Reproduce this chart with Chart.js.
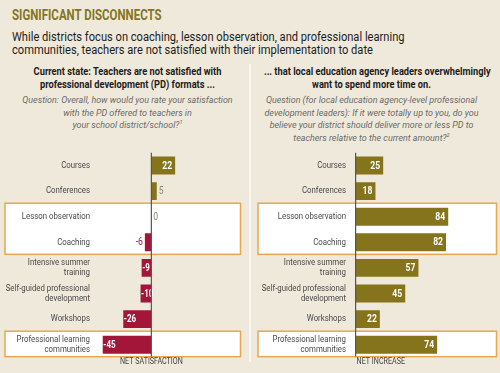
<!DOCTYPE html>
<html>
<head>
<meta charset="utf-8">
<script src="https://cdn.jsdelivr.net/npm/chart.js@4.4.1/dist/chart.umd.min.js"></script>
<style>
  html, body { margin: 0; padding: 0; background: #efe9db; }
  #page { position: relative; width: 500px; height: 373px; overflow: hidden; font-family: Roboto, "Liberation Sans", sans-serif; }
  .title { position: absolute; left: 12px; top: 7px; font-size: 14px; line-height: 16px; font-weight: 700; color: #857420; white-space: nowrap; transform: scaleX(0.82); transform-origin: left center; }
  .subtitle { position: absolute; left: 12px; top: 30px; font-size: 12.5px; line-height: 13px; color: #1d1d1d; white-space: nowrap; transform: scaleX(0.89); transform-origin: left center; }
  .col { position: absolute; top: 66px; text-align: center; }
  .col h2 { margin: 0; font-size: 10.5px; line-height: 12.5px; font-weight: 700; color: #1d1d1d; white-space: nowrap; transform: scaleX(0.885); transform-origin: center top; }
  .col p { margin: 3px 0 0; font-size: 9.5px; line-height: 12.5px; font-style: italic; color: #6a6a6a; white-space: nowrap; transform: scaleX(0.94); transform-origin: center top; }
  .col sup { font-size: 6px; line-height: 0; }
  .divider { position: absolute; left: 249px; top: 64px; width: 2px; height: 298px; background: #faf7ef; }
  canvas { position: absolute; top: 140px; }
</style>
</head>
<body>
<div id="page">
  <div class="title">SIGNIFICANT DISCONNECTS</div>
  <div class="subtitle">While districts focus on coaching, lesson observation, and professional learning<br>communities, teachers are not satisfied with their implementation to date</div>
  <div class="col" style="left:5px; width:245px;">
    <h2>Current state: Teachers are not satisfied with<br>professional development (PD) formats ...</h2>
    <p>Question: Overall, how would you rate your satisfaction<br>with the PD offered to teachers in<br>your school district/school?<sup>1</sup></p>
  </div>
  <div class="col" style="left:250px; width:243px;">
    <h2>... that local education agency leaders overwhelmingly<br>want to spend more time on.</h2>
    <p>Question (for local education agency-level professional<br>development leaders): If it were totally up to you, do you<br>believe your district should deliver more or less PD to<br>teachers relative to the current amount?<sup>2</sup></p>
  </div>
  <div class="divider"></div>
  <canvas id="leftChart" width="250" height="233" style="left:0;"></canvas>
  <canvas id="rightChart" width="250" height="233" style="left:250px;"></canvas>
</div>
<script>
// PD formats, top to bottom
var categories = [
  'Courses',
  'Conferences',
  'Lesson observation',
  'Coaching',
  ['Intensive summer', 'training'],
  ['Self-guided professional', 'development'],
  'Workshops',
  ['Professional learning', 'communities']
];
var netSatisfaction = [22, 5, 0, -6, -9, -10, -26, -45];
var netIncrease = [25, 18, 84, 82, 57, 45, 22, 74];
// category indices that sit inside the orange boxes
var highlightGroups = [[2, 3], [7]];

var OLIVE = '#85741b';
var RED = '#a3163a';
var FONT = 'Roboto, "Liberation Sans", sans-serif';

// squeeze text horizontally so it reads like the condensed print face
function narrowText(ctx, txt, x, y, sx) {
  ctx.save();
  ctx.translate(x, y);
  ctx.scale(sx, 1);
  ctx.fillText(txt, 0, 0);
  ctx.restore();
}

var panelDecor = {
  id: 'panelDecor',
  beforeDraw: function (chart, args, o) {
    var ctx = chart.ctx, y = chart.scales.y;
    ctx.save();
    highlightGroups.forEach(function (g) {
      var top = y.getPixelForValue(g[0]) - 13.5;
      var bottom = y.getPixelForValue(g[g.length - 1]) + 12;
      ctx.fillStyle = '#ffffff';
      ctx.fillRect(o.boxLeft, top, o.boxRight - o.boxLeft, bottom - top);
      ctx.strokeStyle = '#eaa64e';
      ctx.lineWidth = 1.5;
      ctx.strokeRect(o.boxLeft, top, o.boxRight - o.boxLeft, bottom - top);
    });
    ctx.restore();
  },
  beforeDatasetsDraw: function (chart) {
    // category labels, right aligned against the plot
    var ctx = chart.ctx, y = chart.scales.y;
    var right = chart.chartArea.left - 3;
    ctx.save();
    ctx.font = '9px ' + FONT;
    ctx.fillStyle = '#4a4a4a';
    ctx.textAlign = 'right';
    ctx.textBaseline = 'middle';
    chart.data.labels.forEach(function (lab, i) {
      var lines = [].concat(lab);
      var cy = y.getPixelForValue(i);
      var lh = 9.5;
      lines.forEach(function (line, k) {
        narrowText(ctx, line, right, cy + (k - (lines.length - 1) / 2) * lh, 0.87);
      });
    });
    ctx.restore();
  },
  afterDatasetsDraw: function (chart, args, o) {
    var ctx = chart.ctx, area = chart.chartArea;
    var x0 = chart.scales.x.getPixelForValue(0);
    ctx.save();

    // value labels
    var meta = chart.getDatasetMeta(0);
    var values = chart.data.datasets[0].data;
    ctx.textBaseline = 'middle';
    meta.data.forEach(function (el, i) {
      var v = values[i];
      var txt = String(v);
      if (Math.abs(v) >= 8) {
        ctx.font = 'bold 10px ' + FONT;
        ctx.fillStyle = '#ffffff';
        if (v > 0) { ctx.textAlign = 'right'; narrowText(ctx, txt, el.x - 3, el.y + 0.5, 0.86); }
        else { ctx.textAlign = 'left'; narrowText(ctx, txt, el.x + 0.5, el.y + 0.5, 0.8); }
      } else {
        ctx.font = '10px ' + FONT;
        if (v < 0) { ctx.fillStyle = RED; ctx.textAlign = 'right'; narrowText(ctx, txt, el.x - 2, el.y + 0.5, 0.86); }
        else { ctx.fillStyle = '#8f8770'; ctx.textAlign = 'left'; narrowText(ctx, txt, el.x + 2, el.y + 0.5, 0.86); }
      }
    });

    // zero line
    ctx.strokeStyle = '#555';
    ctx.lineWidth = 1.2;
    ctx.beginPath();
    ctx.moveTo(x0, area.top);
    ctx.lineTo(x0, area.bottom - 1);
    ctx.stroke();

    // axis title under the zero line
    ctx.font = '8.5px ' + FONT;
    ctx.fillStyle = '#444';
    ctx.textAlign = o.titleAlign;
    ctx.textBaseline = 'middle';
    narrowText(ctx, o.title, o.titleAlign === 'center' ? x0 : x0 + 1, 222, 0.84);
    ctx.restore();
  }
};

function makeChart(id, values, opts) {
  return new Chart(document.getElementById(id), {
    type: 'bar',
    data: {
      labels: categories,
      datasets: [{
        data: values,
        backgroundColor: values.map(function (v) { return v < 0 ? RED : OLIVE; }),
        borderWidth: 0,
        categoryPercentage: 1,
        barPercentage: 0.7
      }]
    },
    options: {
      indexAxis: 'y',
      responsive: false,
      animation: false,
      devicePixelRatio: 1,
      layout: { padding: { top: 12.7, bottom: 15.5, left: 0, right: opts.padRight } },
      scales: {
        x: { display: false, min: opts.min, max: opts.max },
        y: {
          grid: { display: false, drawTicks: false },
          border: { display: false },
          ticks: { display: false },
          afterFit: function (scale) { scale.width = opts.axisWidth; }
        }
      },
      plugins: {
        legend: { display: false },
        tooltip: { enabled: false },
        panelDecor: {
          boxLeft: opts.boxLeft,
          boxRight: opts.boxRight,
          title: opts.title,
          titleAlign: opts.titleAlign
        }
      }
    },
    plugins: [panelDecor]
  });
}

makeChart('leftChart', netSatisfaction, {
  min: -54, max: 82, padRight: 10, axisWidth: 93,
  boxLeft: 5, boxRight: 240.5, title: 'NET SATISFACTION', titleAlign: 'center'
});
makeChart('rightChart', netIncrease, {
  min: -6, max: 128, padRight: 3.3, axisWidth: 99,
  boxLeft: 8, boxRight: 246.5, title: 'NET INCREASE', titleAlign: 'left'
});
</script>
</body>
</html>
